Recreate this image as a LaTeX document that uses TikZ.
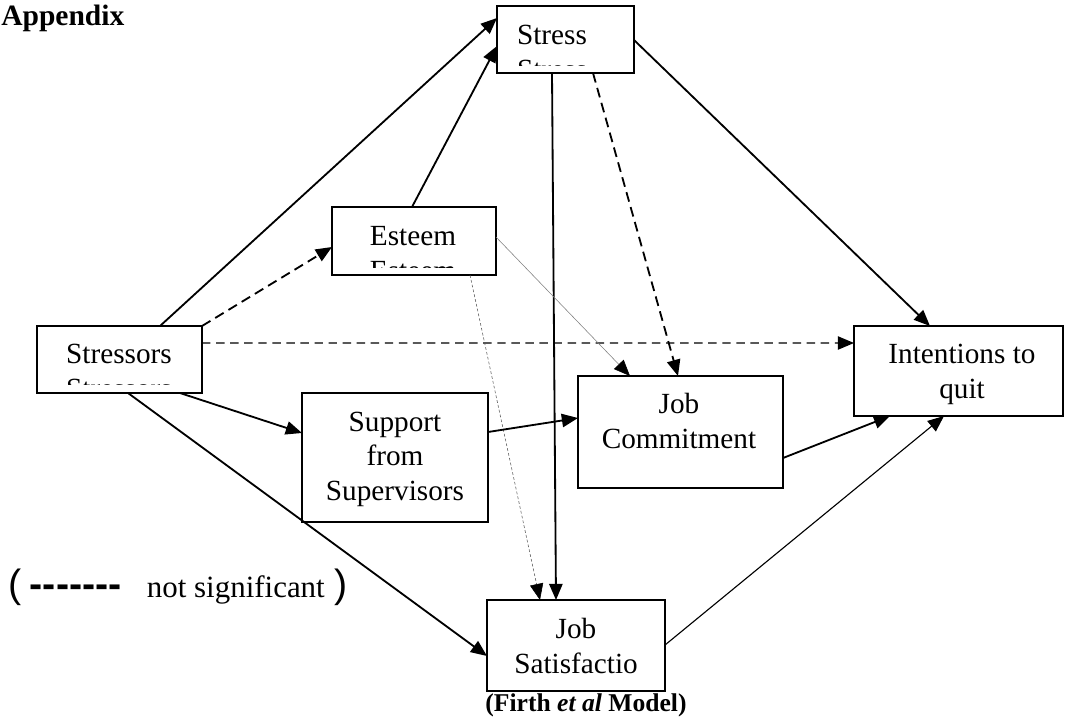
\documentclass[tikz,border=0pt]{standalone}
\usepackage{fontspec}
\setmainfont{Liberation Serif}
\newfontfamily\legendfont{Liberation Sans}
\usetikzlibrary{calc,fit,arrows.meta}
\newcommand{\boxtext}{\fontsize{20.8}{24.5}\selectfont}
\newcommand{\hy}{\mbox{-}}

\begin{document}
\begin{tikzpicture}[x=0.025cm,y=-0.025cm,
  box/.style={draw, line width=1.3pt, inner sep=0pt, outer sep=0pt},
  txt/.style={font=\boxtext, align=center, inner sep=0pt, anchor=base},
  link/.style={line width=1.3pt, -{Triangle[length=11.5pt,width=9.5pt]}},
  nslink/.style={link, dash pattern=on 7pt off 4pt},
  faint/.style={line width=0.4pt, gray, -{Triangle[length=11.5pt,width=9.5pt,color=black]}}]
  \useasboundingbox (0,0) rectangle (1065,726);
  \node[box, fit={(497,6) (634,73)}] (stress) {};
  \node[box, fit={(332,207) (496,275)}] (esteem) {};
  \node[box, fit={(37,326) (202,393)}] (stressors) {};
  \node[box, fit={(854,326) (1063,416)}] (quit) {};
  \node[box, fit={(578,376) (783,488)}] (commit) {};
  \node[box, fit={(302,393) (488,522)}] (support) {};
  \node[box, fit={(487,600) (665,691)}] (jobsat) {};
  \begin{scope}
    \clip (stress.north west) rectangle ($(stress.south east)+(0,-8)$);
    \node[txt] (stresst) at (552,79) {Stress\\Stress};
  \end{scope}
  \begin{scope}
    \clip (esteem.north west) rectangle ($(esteem.south east)+(0,-8)$);
    \node[txt] (esteemt) at (413,280) {Esteem\\Esteem};
  \end{scope}
  \begin{scope}
    \clip (stressors.north west) rectangle ($(stressors.south east)+(0,-9)$);
    \node[txt] (stressorst) at (119,398) {Stressors\\Stressors};
  \end{scope}
  \node[txt] (quitt) at (962,398) {Intentions to\\quit};
  \node[txt] (committ) at (679,448) {Job\\Commitment};
  \node[txt] (supportt) at (395,500) {Support\\from\\Supervisors};
  \node[txt] (jobsatt) at (576,673) {Job\\Satisfactio};
  \draw[link] ($(stressors.north west)+(123,0)$) -- ($(stress.north west)+(0,12)$);
  \draw[link] ($(esteem.north west)+(80,0)$) -- ($(stress.north west)+(0,40)$);
  \draw[nslink] (stressors.north east) -- ($(esteem.north west)+(0,40)$);
  \draw[link, line width=0.8pt, dash pattern=on 6pt off 4pt] ($(stressors.north east)+(0,17)$) -- ($(quit.north west)+(0,17)$);
  \draw[link] ($(stress.north east)+(0,34)$) -- ($(quit.north west)+(76,0)$);
  \draw[link] ($(stress.south west)+(55,0)$) -- ($(jobsat.north west)+(69,0)$);
  \draw[nslink] ($(stress.south west)+(96,0)$) -- ($(commit.north west)+(100,0)$);
  \draw[faint] ($(esteem.north east)+(0,30)$) -- ($(commit.north west)+(52,0)$);
  \draw[faint, gray!70!black, dash pattern=on 2pt off 1.5pt] ($(esteem.south west)+(138,0)$) -- ($(jobsat.north west)+(53,0)$);
  \draw[link] ($(stressors.south east)+(-22,0)$) -- ($(support.north west)+(0,40)$);
  \draw[link] ($(stressors.south west)+(91,0)$) -- ($(jobsat.north west)+(0,56)$);
  \draw[link] ($(support.north east)+(0,39)$) -- ($(commit.north west)+(0,42)$);
  \draw[link] ($(commit.north east)+(0,82)$) -- ($(quit.south west)+(36,0)$);
  \draw[link, line width=0.8pt] ($(jobsat.north east)+(0,45)$) -- ($(quit.south west)+(90,0)$);
  \node[anchor=base west, inner sep=0pt, font=\bfseries\fontsize{21}{23}\selectfont] (appendix) at (1,25) {Appendix};
  \node[anchor=base west, inner sep=0pt] (legend) at (8,597) {{\legendfont\fontsize{28}{30}\selectfont(\hspace{6pt}\bfseries\hy\hy\hy\hy\hy\hy\hy}\hspace{18pt}{\fontsize{22}{24}\selectfont not significant}\hspace{7pt}{\legendfont\fontsize{28}{30}\selectfont)}};
  \node[anchor=base, inner sep=0pt, font=\bfseries\fontsize{18.2}{20}\selectfont] (caption) at (586,711) {(Firth \textit{et al} Model)};
\end{tikzpicture}
\end{document}
